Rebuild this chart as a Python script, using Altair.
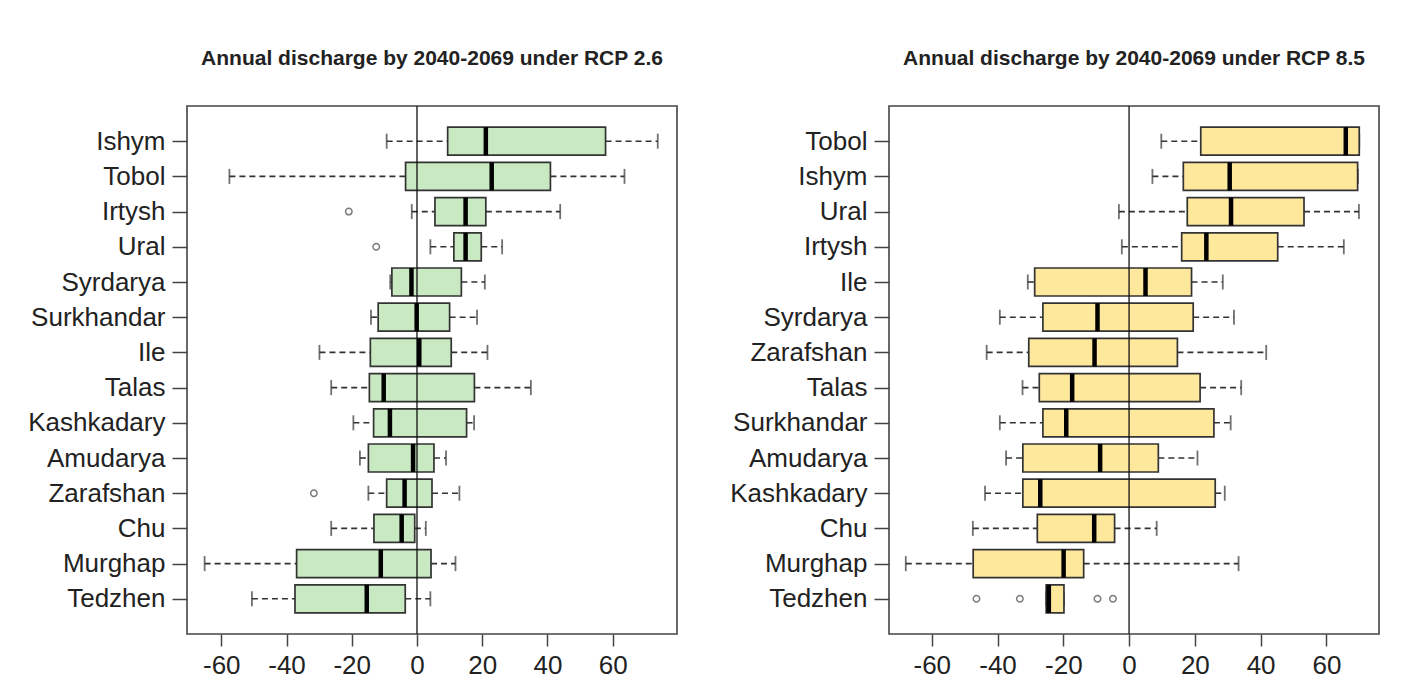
import altair as alt
import pandas as pd

# ---------------- RCP 2.6 ----------------
cats26 = ["Ishym", "Tobol", "Irtysh", "Ural", "Syrdarya", "Surkhandar", "Ile",
          "Talas", "Kashkadary", "Amudarya", "Zarafshan", "Chu", "Murghap", "Tedzhen"]
lo26 = [-9.3, -57.5, -1.6, 4.1, -8.2, -14.1, -29.9, -26.3, -19.5, -17.5, -14.9, -26.3, -65.1, -50.6]
q1_26 = [9.4, -3.5, 5.5, 11.3, -7.7, -11.9, -14.3, -14.6, -13.3, -14.9, -9.3, -13.2, -36.9, -37.4]
med26 = [21.1, 22.9, 14.9, 14.9, -1.7, -0.1, 0.7, -10.2, -8.3, -1.2, -3.8, -4.7, -11.1, -15.4]
q3_26 = [57.8, 40.9, 21.1, 19.7, 13.6, 10.0, 10.5, 17.6, 15.2, 5.2, 4.6, -0.7, 4.3, -3.6]
hi26 = [73.8, 63.6, 43.9, 26.1, 20.8, 18.4, 21.6, 34.9, 17.5, 8.9, 13.0, 2.7, 11.8, 4.1]
out26_cat = ["Irtysh", "Ural", "Zarafshan"]
out26_val = [-20.9, -12.5, -31.6]

# ---------------- RCP 8.5 ----------------
cats85 = ["Tobol", "Ishym", "Ural", "Irtysh", "Ile", "Syrdarya", "Zarafshan",
          "Talas", "Surkhandar", "Amudarya", "Kashkadary", "Chu", "Murghap", "Tedzhen"]
lo85 = [9.8, 7.1, -3.1, -2.2, -30.8, -39.3, -43.3, -32.4, -39.3, -37.4, -43.8, -47.5, -67.9, -25.2]
q1_85 = [21.8, 16.5, 17.7, 16.0, -28.7, -26.2, -30.5, -27.3, -26.2, -32.3, -32.3, -27.9, -47.4, -25.2]
med85 = [65.9, 30.6, 31.0, 23.5, 5.0, -9.6, -10.5, -17.3, -19.1, -8.8, -27.0, -10.6, -19.9, -24.4]
q3_85 = [70.0, 69.5, 53.2, 45.2, 19.0, 19.5, 14.7, 21.6, 25.8, 8.9, 26.2, -4.4, -13.8, -19.8]
hi85 = [70.0, 69.6, 69.9, 65.3, 28.5, 31.9, 41.7, 34.1, 30.9, 20.8, 29.1, 8.4, 33.3, -19.8]
out85_cat = ["Tedzhen", "Tedzhen", "Tedzhen", "Tedzhen"]
out85_val = [-46.4, -33.2, -9.6, -4.9]

x_ticks = [-60, -40, -20, 0, 20, 40, 60]

FONT = "Liberation Sans"
INK = "#333333"


def panel(cats, lo, q1, med, q3, hi, ocat, oval, fill, domain, title):
    df = pd.DataFrame({"cat": cats, "lo": lo, "q1": q1, "med": med, "q3": q3, "hi": hi})
    od = pd.DataFrame({"cat": ocat, "v": oval})
    zd = pd.DataFrame({"z": [0]})

    xs = alt.Scale(domain=domain, nice=False, zero=False)
    ys = alt.Scale(type="point", domain=cats, padding=1.06)
    xaxis = alt.Axis(values=x_ticks, grid=False, domain=False, tickSize=12,
                     labelPadding=6, title=None, labelExpr="'' + datum.value")
    yaxis = alt.Axis(grid=False, domain=False, tickSize=15, labelPadding=7,
                     minExtent=178, maxExtent=178, title=None)

    def X(f):
        return alt.X(f, type="quantitative", scale=xs, axis=xaxis)

    Y = alt.Y("cat:N", scale=ys, axis=yaxis, sort=cats)

    base = alt.Chart(df)
    w_left = base.mark_rule(color=INK, strokeWidth=1.6, strokeDash=[6, 4]).encode(
        x=X("lo"), x2="q1", y=Y)
    w_right = base.mark_rule(color=INK, strokeWidth=1.6, strokeDash=[6, 4]).encode(
        x=X("q3"), x2="hi", y=Y)
    cap_lo = base.mark_tick(color=INK, size=15, thickness=1.8).encode(x=X("lo"), y=Y)
    cap_hi = base.mark_tick(color=INK, size=15, thickness=1.8).encode(x=X("hi"), y=Y)
    box = base.mark_bar(size=28, fill=fill, stroke=INK, strokeWidth=1.7).encode(
        x=X("q1"), x2="q3", y=Y)
    zero = alt.Chart(zd).mark_rule(color="#111111", strokeWidth=1.3).encode(x=X("z"))
    median = base.mark_tick(color="#000000", size=28, thickness=4.5, opacity=1).encode(
        x=X("med"), y=Y)
    outl = alt.Chart(od).mark_point(shape="circle", filled=False, size=42,
                                    color="#444444", strokeWidth=1.5).encode(
        x=X("v"), y=alt.Y("cat:N", scale=ys, axis=yaxis))

    return alt.layer(w_left, w_right, cap_lo, cap_hi, box, zero, median, outl).properties(
        width=490, height=528,
        title=alt.TitleParams(title, fontSize=21, fontWeight="bold", font=FONT,
                              color="#222222", offset=36, anchor="middle"))


left = panel(cats26, lo26, q1_26, med26, q3_26, hi26, out26_cat, out26_val,
             "#c8e9c2", [-70.5, 79.7], "Annual discharge by 2040-2069 under RCP 2.6")
right = panel(cats85, lo85, q1_85, med85, q3_85, hi85, out85_cat, out85_val,
              "#fde89c", [-73.0, 76.0], "Annual discharge by 2040-2069 under RCP 8.5")

chart = alt.hconcat(left, right, spacing=32).properties(
    padding={"left": 0, "top": 39, "right": 5, "bottom": 0},
    background="white",
).configure_view(
    stroke="#444444", strokeWidth=1.6
).configure_axis(
    labelFont=FONT, labelFontSize=26, labelColor="#222222",
    tickColor="#444444", tickWidth=1.5
)

chart.save("out.html", embed_options={"renderer": "svg", "actions": False})
